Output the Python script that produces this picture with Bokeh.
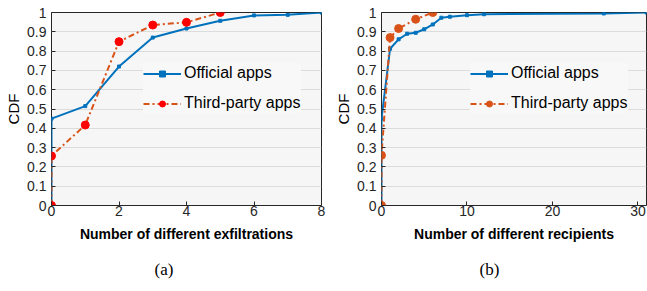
from bokeh.plotting import figure
from bokeh.layouts import row
from bokeh.models import FixedTicker, Title, Legend, Range1d
from bokeh.embed import file_html
from bokeh.resources import INLINE

# ---------------- data ----------------
# (a) Number of different exfiltrations
a_off_x = [0, 0, 1, 2, 3, 4, 5, 6, 7, 8]
a_off_y = [0, 0.45, 0.515, 0.72, 0.87, 0.917, 0.957, 0.985, 0.988, 1.0]
a_3p_x = [0, 0, 1, 2, 3, 4, 5]
a_3p_y = [0, 0.257, 0.417, 0.849, 0.935, 0.949, 1.0]
a_xticks = [0, 2, 4, 6, 8]

# (b) Number of different recipients
b_off_x = [0, 0, 1, 2, 3, 4, 5, 6, 7, 8, 10, 12, 26, 31]
b_off_y = [0, 0.45, 0.812, 0.861, 0.89, 0.895, 0.913, 0.938, 0.973, 0.978, 0.986, 0.991, 0.995, 1.0]
b_3p_x = [0, 0, 1, 2, 4, 6]
b_3p_y = [0, 0.26, 0.87, 0.917, 0.965, 1.0]
b_xticks = [0, 10, 20, 30]

yticks = [0, 0.1, 0.2, 0.3, 0.4, 0.5, 0.6, 0.7, 0.8, 0.9, 1]
ytick_labels = ["0", "0.1", "0.2", "0.3", "0.4", "0.5", "0.6", "0.7", "0.8", "0.9", "1"]

series_names = ["Official apps", "Third-party apps"]

BLUE = "#0072BD"
ORANGE = "#D95319"
FONT = "Liberation Sans"


def panel(offx, offy, tpx, tpy, xend, xticks, xlabel, caption, width,
          min_left, min_right, marker_fill, leg_loc, cap_offset):
    p = figure(width=width, height=291, x_range=Range1d(0, xend), y_range=Range1d(0, 1),
               output_backend="svg", toolbar_location=None, title=None,
               min_border_left=min_left, min_border_right=min_right,
               min_border_top=12, min_border_bottom=84)
    p.background_fill_color = "#f6f6f6"
    p.border_fill_color = "white"
    p.outline_line_color = "#262626"
    p.outline_line_width = 1
    p.outline_line_alpha = 1

    p.xaxis.ticker = FixedTicker(ticks=xticks)
    p.yaxis.ticker = FixedTicker(ticks=yticks)
    p.yaxis.major_label_overrides = dict(zip(yticks, ytick_labels))
    p.xgrid.visible = False
    p.ygrid.ticker = FixedTicker(ticks=yticks)
    p.ygrid.grid_line_color = "#dcdcdc"
    p.ygrid.grid_line_width = 1

    for ax in (p.xaxis[0], p.yaxis[0]):
        ax.axis_line_color = None
        ax.major_tick_in = 4
        ax.major_tick_out = 0
        ax.major_tick_line_color = "#262626"
        ax.minor_tick_in = 0
        ax.minor_tick_out = 0
        ax.major_label_text_font = FONT
        ax.major_label_text_font_size = "14px"
        ax.major_label_text_color = "#262626"
        ax.axis_label_text_font = FONT
        ax.axis_label_text_color = "black"
    p.xaxis.major_label_standoff = 0
    p.yaxis.major_label_standoff = 5
    p.xaxis.axis_label = xlabel
    p.xaxis.axis_label_text_font_size = "14px"
    p.xaxis.axis_label_text_font_style = "bold"
    p.xaxis.axis_label_standoff = 7
    p.yaxis.axis_label = "CDF"
    p.yaxis.axis_label_text_font_size = "15px"
    p.yaxis.axis_label_text_font_style = "normal"
    p.yaxis.axis_label_standoff = 2

    l1 = p.line(offx, offy, line_color=BLUE, line_width=2)
    s1 = p.scatter(offx, offy, marker="square", size=3, fill_color=BLUE, line_color=BLUE)
    l2 = p.line(tpx, tpy, line_color=ORANGE, line_width=2, line_dash="6 3 2 3")
    s2 = p.scatter(tpx, tpy, marker="circle", size=8, fill_color=marker_fill, line_color=marker_fill)

    leg = Legend(items=[(series_names[0], [l1, s1]), (series_names[1], [l2, s2])],
                 location=leg_loc)
    leg.border_line_color = None
    leg.background_fill_color = "#f8f8f8"
    leg.background_fill_alpha = 1
    leg.label_text_font = FONT
    leg.label_text_font_size = "16px"
    leg.label_text_color = "black"
    leg.glyph_width = 38
    leg.glyph_height = 15
    leg.label_height = 20
    leg.spacing = 10
    leg.padding = 8
    leg.margin = 0
    leg.label_standoff = 3
    p.add_layout(leg)

    cap = Title(text=caption, align="left", offset=cap_offset, text_font="Liberation Serif",
                text_font_size="17px", text_font_style="normal", text_color="black",
                standoff=26, vertical_align="bottom")
    p.add_layout(cap, "below")
    return p


pa = panel(a_off_x, a_off_y, a_3p_x, a_3p_y, 8, a_xticks,
           "Number of different exfiltrations", "(a)", 330, 51, 9, "#FF0000", (92, 92), 103)
pb = panel(b_off_x, b_off_y, b_3p_x, b_3p_y, 31, b_xticks,
           "Number of different recipients", "(b)", 317, 51, 1, ORANGE, (89, 92), 98)

layout = row(pa, pb, width=647, height=291)
open("out.html", "w").write(file_html(layout, INLINE))
